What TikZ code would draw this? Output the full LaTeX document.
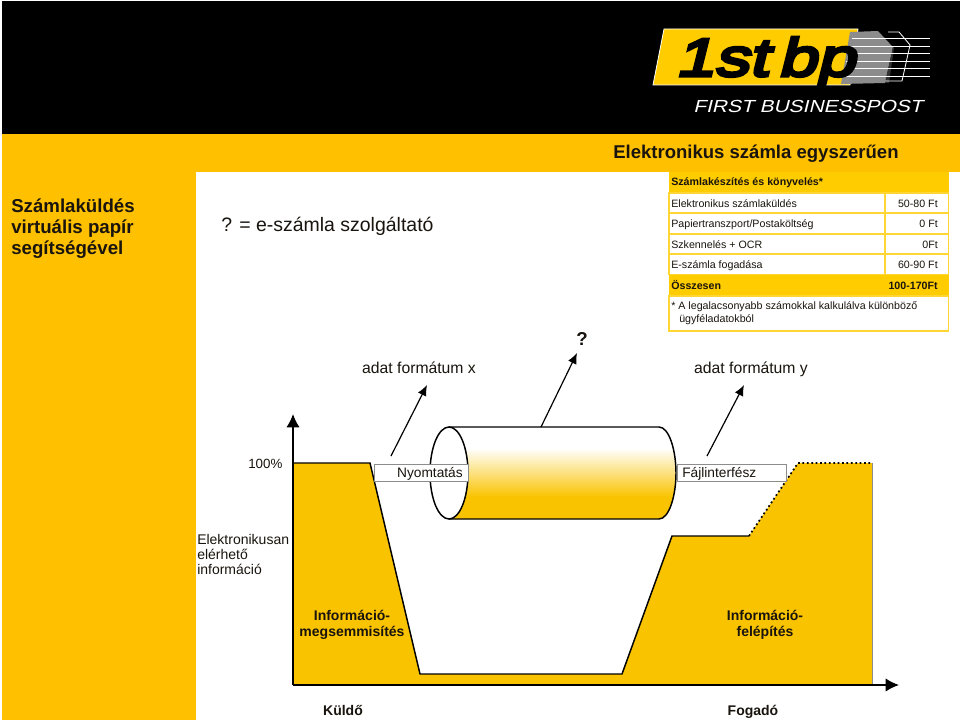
\documentclass[tikz,border=0pt]{standalone}
\usepackage{fontspec}
\setmainfont{Liberation Sans}
\newfontfamily\logofont[FakeBold=6,FakeSlant=0.25,FakeStretch=1.3]{Liberation Sans}
\newfontfamily\subfont[FakeSlant=0.25,FakeStretch=1.2]{Liberation Sans}
\usetikzlibrary{arrows.meta}
\definecolor{mgold}{rgb}{1, 0.753, 0}
\definecolor{mtable}{rgb}{1, 0.8, 0}
\definecolor{mfill}{rgb}{0.976, 0.765, 0}
\definecolor{mgrey}{rgb}{0.55, 0.55, 0.55}
\definecolor{mink}{rgb}{0.1, 0.08, 0.05}
\tikzset{px/.style = {x=0.75pt, y=-0.75pt},
         tablerow/.style = {draw=mtable!80!white, line width=1pt, fill=white},
         tabletext/.style = {text=mink, inner sep=0pt, font=\fontsize{8}{10}\selectfont},
         tablebold/.style = {tabletext, font=\fontsize{8}{10}\selectfont\bfseries},
         bigtext/.style = {text=mink, inner sep=0pt, font=\fontsize{11.8}{14}\selectfont},
         boldtext/.style = {text=mink, inner sep=0pt, align=center, font=\fontsize{10.5}{11.6}\selectfont\bfseries},
         labelbox/.style = {draw=mgrey, fill=white, line width=0.6pt, minimum height=12.75pt, inner sep=0pt},
         pointer/.style = {-{Latex[length=8pt, width=7pt]}, line width=0.9pt, black}}

\begin{document}
\begin{tikzpicture}[px]
    \useasboundingbox (0, 0) rectangle (960, 720);
    \fill [white] (0, 0) rectangle (960, 720);
    \fill [black] (2, 1) rectangle (960, 134);
    \fill [mgold] (2, 134) rectangle (960, 172);
    \fill [mgold] (2, 172) rectangle (196, 720);

    % logo
    \fill [mtable, draw=white, line width=0.6pt] (653, 85) -- (664, 29) -- (858, 29) -- (850, 85) -- cycle;
    \fill [gray!90!white] (850, 32) -- (878, 31) -- (893, 47) -- (885, 83) -- (841, 84) -- cycle;
    \fill [gray!40!black] (878, 31) -- (893, 47) -- (885, 83) -- (889, 83) -- (894, 48) -- cycle;
    \draw [white, line width=0.6pt] (888, 32) -- (899, 32) -- (910, 45) -- (902, 81) -- (885, 81);
    \foreach \y/\start in {38/852, 46/850, 53/848, 61/846, 68/844, 76/842} {
      \draw [white, line width=0.7pt] (\start, \y) -- (930, \y);
    }
    \node (logoname) [anchor=base west, inner sep=0pt, text=black, font=\fontsize{40}{40}\logofont] at (675, 76) {1st\hspace{-7pt} bp};
    \node (logosub) [anchor=base west, inner sep=0pt, text=white, font=\fontsize{13.1}{16}\subfont] at (693, 113) {FIRST BUSINESSPOST};

    % headings
    \node (title) [anchor=base west, text=mink, inner sep=0pt, font=\fontsize{13.9}{16}\selectfont\bfseries] at (613, 159) {Elektronikus számla egyszerűen};
    \node (side) [anchor=north west, text=mink, inner sep=0pt, align=left, font=\fontsize{14}{15.4}\selectfont\bfseries] at (11, 199) {Számlaküldés\\virtuális papír\\segítségével};
    \node (provider) [anchor=west, bigtext, font=\fontsize{14.6}{16}\selectfont] at (221, 226) {? = e-számla szolgáltató};

    % table
    \fill [mtable] (669, 172) rectangle (949, 193);
    \fill [mtable] (669, 275) rectangle (949, 296);
    \draw [tablerow] (669, 296) rectangle (948.5, 331);
    \foreach \y/\label/\price in {193/Elektronikus számlaküldés/50-80 Ft,
                                  213/{Papiertranszport/Postaköltség}/0 Ft,
                                  234/Szkennelés + OCR/0Ft,
                                  254/E-számla fogadása/60-90 Ft} {
      \draw [tablerow] (669, \y) rectangle (885, \y + 20.5);
      \draw [tablerow] (885, \y) rectangle (948.5, \y + 20.5);
      \node (row\y) [tabletext, anchor=base west] at (671, \y + 14.5) {\label};
      \node (price\y) [tabletext, anchor=base east] at (938, \y + 14.5) {\price};
    }
    \node (tablehead) [tablebold, anchor=base west] at (671, 186) {Számlakészítés és könyvelés*};
    \node (total) [tablebold, anchor=base west] at (671, 290) {Összesen};
    \node (totalprice) [tablebold, anchor=base east] at (938, 290) {100-170Ft};
    \node (note) [tabletext, anchor=north west, align=left] at (671, 301) {* A legalacsonyabb számokkal kalkulálva különböző\\\hspace*{6pt}ügyféladatokból};

    % curve
    \fill [mfill] (293, 463) -- (370, 463) -- (420, 674) -- (622, 674) -- (672, 536) -- (749, 536) -- (798, 463) -- (872, 463) -- (872, 685) -- (293, 685) -- cycle;
    \draw [black, line width=1.1pt] (293, 463) -- (370, 463) -- (420, 674) -- (622, 674) -- (672, 536) -- (749, 536);
    \draw [black, line width=1.3pt, dotted] (749, 536) -- (798, 463) -- (872, 463);
    \draw [mgrey, line width=0.6pt] (872, 463) -- (872, 685);

    % axes
    \coordinate (origin) at (293, 685);
    \coordinate (ytop) at (293, 414);
    \coordinate (xend) at (899, 685);
    \draw [-{Latex[length=10pt, width=10pt]}, line width=1.1pt, black] (origin) -- (ytop);
    \draw [-{Latex[length=10pt, width=10pt]}, line width=1.1pt, black] (origin) -- (xend);

    % cylinder
    \begin{scope}
      \clip (449, 427) -- (659, 427) .. controls (669, 427) and (676, 450) .. (676, 473) .. controls (676, 496) and (669, 519) .. (659, 519) -- (449, 519) -- cycle;
      \shade [top color=white, bottom color=mfill] (440, 448) rectangle (680, 497);
      \fill [mfill] (440, 496.5) rectangle (680, 520);
    \end{scope}
    \draw [line width=1.1pt, black] (449, 427) -- (659, 427) .. controls (669, 427) and (676, 450) .. (676, 473) .. controls (676, 496) and (669, 519) .. (659, 519) -- (449, 519);
    \draw [line width=1.1pt, black, fill=white] (449, 473) ellipse (14.25pt and 34.5pt);

    % label boxes
    \node (printbox) [labelbox, minimum width=70.5pt, anchor=north west] at (374, 464) {};
    \node (filebox) [labelbox, minimum width=81.75pt, anchor=north west] at (677, 464) {};
    \node (print) [anchor=base east, text=mink, inner sep=0pt, font=\fontsize{10.3}{12}\selectfont] at (463, 477) {Nyomtatás};
    \node (file) [anchor=base west, text=mink, inner sep=0pt, font=\fontsize{10.3}{12}\selectfont] at (682, 477) {Fájlinterfész};

    % pointers
    \coordinate (xfoot) at (391, 456);
    \coordinate (xtip) at (427, 385);
    \coordinate (qfoot) at (541, 427);
    \coordinate (qtip) at (577, 353);
    \coordinate (yfoot) at (707, 456);
    \coordinate (ytip) at (744, 385);
    \draw [pointer] (xfoot) -- (xtip);
    \draw [pointer] (qfoot) -- (qtip);
    \draw [pointer] (yfoot) -- (ytip);
    \node (formatx) [bigtext, anchor=base] at (419, 373) {adat formátum x};
    \node (formaty) [bigtext, anchor=base] at (751, 373) {adat formátum y};
    \node (question) [text=mink, inner sep=0pt, font=\fontsize{14}{16}\selectfont\bfseries] at (582, 339) {?};

    % labels of the curve
    \node (full) [anchor=west, text=mink, inner sep=0pt, font=\fontsize{10}{12}\selectfont] at (248, 464) {100\%};
    \node (avail) [anchor=north west, text=mink, inner sep=0pt, align=left, font=\fontsize{10.5}{11.3}\selectfont] at (197, 534) {Elektronikusan\\elérhető\\információ};
    \node (destroy) [boldtext] at (352, 625) {Információ-\\megsemmisítés};
    \node (build) [boldtext] at (765, 625) {Információ-\\felépítés};
    \node (sender) [boldtext, anchor=base] at (343, 715) {Küldő};
    \node (receiver) [boldtext, anchor=base] at (753, 715) {Fogadó};
  \end{tikzpicture}
\end{document}
